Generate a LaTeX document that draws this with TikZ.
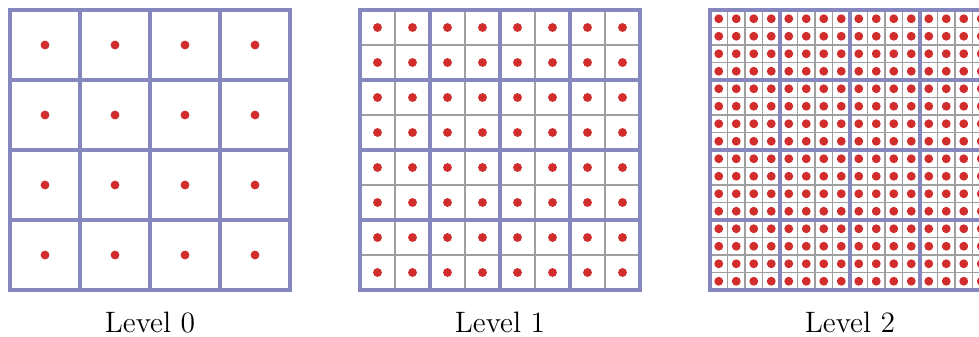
\documentclass[tikz,border=0pt]{standalone}
\usepackage{xcolor}
\usepackage{tikz}

\definecolor{coarseblue}{RGB}{135,135,192}
\definecolor{sampred}{RGB}{210,45,45}

\begin{document}
\begin{tikzpicture}[
    coarse/.style = {draw=coarseblue, line width=1.5pt, line cap=rect},
    fine/.style = {draw=gray!75, line width=0.5pt},
    sample/.style = {fill=sampred},
    levellabel/.style = {anchor=base, font=\large}
]
    % page frame
    \clip (0,0) rectangle (13.986,4.814);

    % one grid per level: cells per side / label
    \foreach \lvl/\n in {0/4, 1/8, 2/16} {
        \pgfmathsetmacro{\cell}{4/\n}
        \begin{scope}[shift={(0.143+5*\lvl,0.671)}]
            % fine cells
            \draw[fine] (0,0) grid[step=\cell] (4,4);
            % cell centres
            \foreach \i in {1,...,\n}
                \foreach \j in {1,...,\n}
                    \fill[sample] ({(\i-0.5)*\cell},{(\j-0.5)*\cell}) circle (1.8pt);
            % coarse blocks
            \draw[coarse] (0,0) grid[step=1] (4,4);
            \draw[coarse] (0,0) rectangle (4,4);
            \node[levellabel] (level\lvl) at (2,-0.6) {Level \lvl};
        \end{scope}
    }
\end{tikzpicture}
\end{document}
